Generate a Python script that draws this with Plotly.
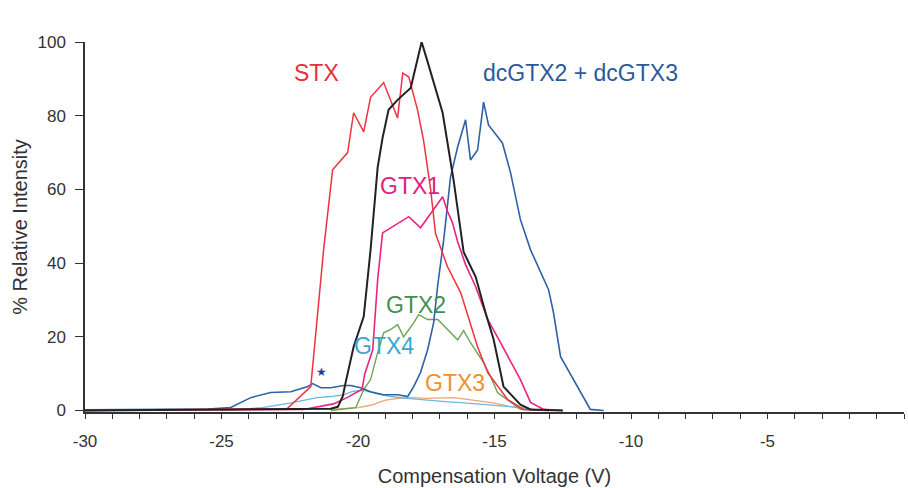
import plotly.graph_objects as go

# ---------------- data ----------------
stx_x = [-30, -26, -24, -22.6, -21.73, -21.26, -20.93, -20.38, -20.16, -19.79, -19.54, -19.06,
         -18.55, -18.36, -18.14, -17.82, -17.6, -17.34, -17.16, -16.72, -16.24, -15.62, -15.25,
         -14.52, -13.94, -13.0]
stx_y = [0, 0.3, 0.4, 0.5, 6.5, 43.6, 65.3, 70, 80.8, 75.6, 85, 89,
         79.4, 91.6, 90.5, 81.6, 73.4, 60, 48, 39, 32, 17.3, 10.3,
         3, 0.3, 0]

neo_x = [-30, -25, -22, -21.0, -20.74, -20.56, -20.45, -20.16, -19.79, -19.54, -19.28, -19.1,
         -18.88, -18.55, -18.07, -17.67, -17.45, -17.23, -16.9, -16.72, -16.5, -16.13, -15.69,
         -15.33, -15.03, -14.67, -14.05, -13.68, -12.5]
neo_y = [0, 0.2, 0.3, 0.5, 1, 3.8, 7.7, 17.3, 25.5, 43.6, 66, 74,
         81.6, 84.3, 87.5, 100, 94.6, 88.9, 80.8, 72.6, 62.6, 43, 36.3,
         26.6, 19.2, 6.5, 1.6, 0.3, 0]

gtx1_x = [-30, -25, -22, -20.9, -20.4, -19.85, -19.75, -19.46, -19.28, -19.1, -18.62, -18.14,
          -17.71, -16.9, -16.72, -16.55, -16.35, -16.06, -15.69, -15.25, -14.78, -14.3, -14.05,
          -13.68, -13.2, -12.5]
gtx1_y = [0, 0.2, 0.3, 1.8, 3.5, 5.8, 10, 16.5, 35.5, 48.2, 50.4, 52.6,
          49.6, 58, 54, 51.2, 45.8, 39.6, 33.6, 24.7, 18.4, 11.9, 8.4,
          2.2, 0.3, 0]

dcgtx_x = [-30, -27, -25.5, -24.66, -23.93, -23.2, -22.46, -21.84, -21.66, -21.36, -21.0, -20.52,
           -20.27, -19.9, -19.54, -19.06, -18.55, -18.18, -17.96, -17.71, -17.45, -17.23, -17.08,
           -16.86, -16.61, -16.35, -16.06, -15.88, -15.62, -15.4, -15.22, -14.71, -14.41, -14.05,
           -13.68, -13.02, -12.84, -12.58, -11.96, -11.49, -11.0]
dcgtx_y = [0.2, 0.3, 0.4, 0.8, 3.5, 4.9, 5.1, 6.5, 7.3, 6.2, 6.2, 6.8,
           6.8, 6.2, 5.1, 4.3, 4.3, 3.8, 6.5, 10.3, 16.5, 23.8, 34,
           46.3, 63.4, 71.5, 78.9, 68, 70.7, 83.7, 77.5, 72.6, 64.5, 51.8,
           43.6, 32.8, 26.6, 14.6, 6.5, 0.3, 0]

gtx2_x = [-21, -20.08, -19.79, -19.54, -19.28, -19.06, -18.8, -18.55, -18.33, -17.96, -17.78,
          -17.45, -17.08, -16.61, -16.35, -16.13, -15.88, -15.4, -15.14, -14.89, -14.41, -14.05, -13]
gtx2_y = [0, 0.8, 5.7, 8.4, 15.7, 21.1, 22, 23.3, 20, 23.8, 26,
          24.7, 24.7, 21.1, 19.2, 21.7, 18.4, 13, 9.2, 4.9, 2.2, 0.3, 0]

gtx4_x = [-25, -24.5, -23.5, -22.5, -22.0, -21.5, -21.0, -20.5, -20.2, -19.8, -19.3, -18.8,
          -18.2, -17.5, -16.8, -16.0, -15.0, -14.0, -13.5]
gtx4_y = [0, 0.3, 0.8, 2, 2.8, 3.5, 3.8, 4.3, 5.2, 5.5, 4.5, 3.8,
          3.3, 2.8, 2.4, 2, 1.5, 0.8, 0.3]

gtx3_x = [-21.0, -20.0, -19.5, -19.0, -18.5, -18.0, -17.5, -17.0, -16.5, -16.0, -15.5, -15.0,
          -14.5, -14.0, -13.5]
gtx3_y = [0.3, 0.8, 1.5, 2.8, 3.3, 3.5, 3.3, 3.5, 3.5, 3.0, 2.5, 2.0,
          1.2, 0.5, 0.2]

series_names = ["GTX3", "GTX4", "GTX2", "dcGTX2 + dcGTX3", "GTX1", "STX", "NEO"]
series_x = [gtx3_x, gtx4_x, gtx2_x, dcgtx_x, gtx1_x, stx_x, neo_x]
series_y = [gtx3_y, gtx4_y, gtx2_y, dcgtx_y, gtx1_y, stx_y, neo_y]
line_colors = ["#eba577", "#6bb8dc", "#6aa552", "#2f62a3", "#e8237f", "#ee3340", "#222222"]
line_widths = [1.3, 1.3, 1.4, 1.6, 1.6, 1.5, 2.0]

label_texts = ["NEO", "STX", "dcGTX2 + dcGTX3", "GTX1", "GTX2", "GTX4", "GTX3", "★"]
label_x = [-17.85, -21.51, -11.85, -18.11, -17.89, -19.06, -16.46, -21.33]
label_y = [105, 91.5, 91.5, 60.8, 28.6, 17.5, 7.5, 10.4]
label_colors = ["#222222", "#e8303a", "#2a5a9a", "#e0207f", "#3f8f4f", "#3aa5cf", "#f0902a", "#1f3f8f"]
label_sizes = [23, 23, 23, 23, 23, 23, 23, 12]

x_tick_vals = [-30, -25, -20, -15, -10, -5, 0]
x_tick_text = ["-30", "-25", "-20", "-15", "-10", "-5", "0"]
y_tick_vals = [0, 20, 40, 60, 80, 100]
y_tick_text = ["0", "20", "40", "60", "80", "100"]

FONT = "Liberation Sans, Arial, sans-serif"

fig = go.Figure()
for nm, xs, ys, c, w in zip(series_names, series_x, series_y, line_colors, line_widths):
    fig.add_trace(go.Scatter(x=xs, y=ys, mode="lines", name=nm,
                             line=dict(color=c, width=w), showlegend=False))

for t, x, y, c, s in zip(label_texts, label_x, label_y, label_colors, label_sizes):
    fig.add_annotation(x=x, y=y, xref="x", yref="y", text=t, showarrow=False,
                       font=dict(family=FONT, size=s, color=c),
                       xanchor="center", yanchor="middle")

fig.update_layout(
    width=908, height=488,
    margin=dict(l=85, r=4, t=42, b=76),
    paper_bgcolor="white", plot_bgcolor="white",
    font=dict(family=FONT, color="#333333"),
    showlegend=False,
)
fig.update_xaxes(
    range=[-30, 0], showgrid=False, zeroline=False,
    showline=True, linecolor="#333333", linewidth=1.5,
    ticks="outside", ticklen=5, tickwidth=1.2, tickcolor="#333333",
    tickvals=x_tick_vals, ticktext=x_tick_text,
    tickfont=dict(size=17, color="#333333"), ticklabelstandoff=8,
    minor=dict(dtick=1, ticks="outside", ticklen=5, tickwidth=1.2, tickcolor="#333333", showgrid=False),
    title=dict(text="Compensation Voltage (V)", font=dict(size=20, color="#333333"), standoff=19),
    automargin=False,
)
fig.update_yaxes(
    range=[-0.4, 100], showgrid=False, zeroline=False,
    showline=True, linecolor="#333333", linewidth=1.5,
    ticks="outside", ticklen=8, tickwidth=1.2, tickcolor="#333333",
    tickvals=y_tick_vals, ticktext=y_tick_text,
    tickfont=dict(size=17, color="#333333"), ticklabelstandoff=6,
    title=dict(text="% Relative Intensity", font=dict(size=20, color="#333333"), standoff=4),
    automargin=False,
)

fig.write_html("out.html")
